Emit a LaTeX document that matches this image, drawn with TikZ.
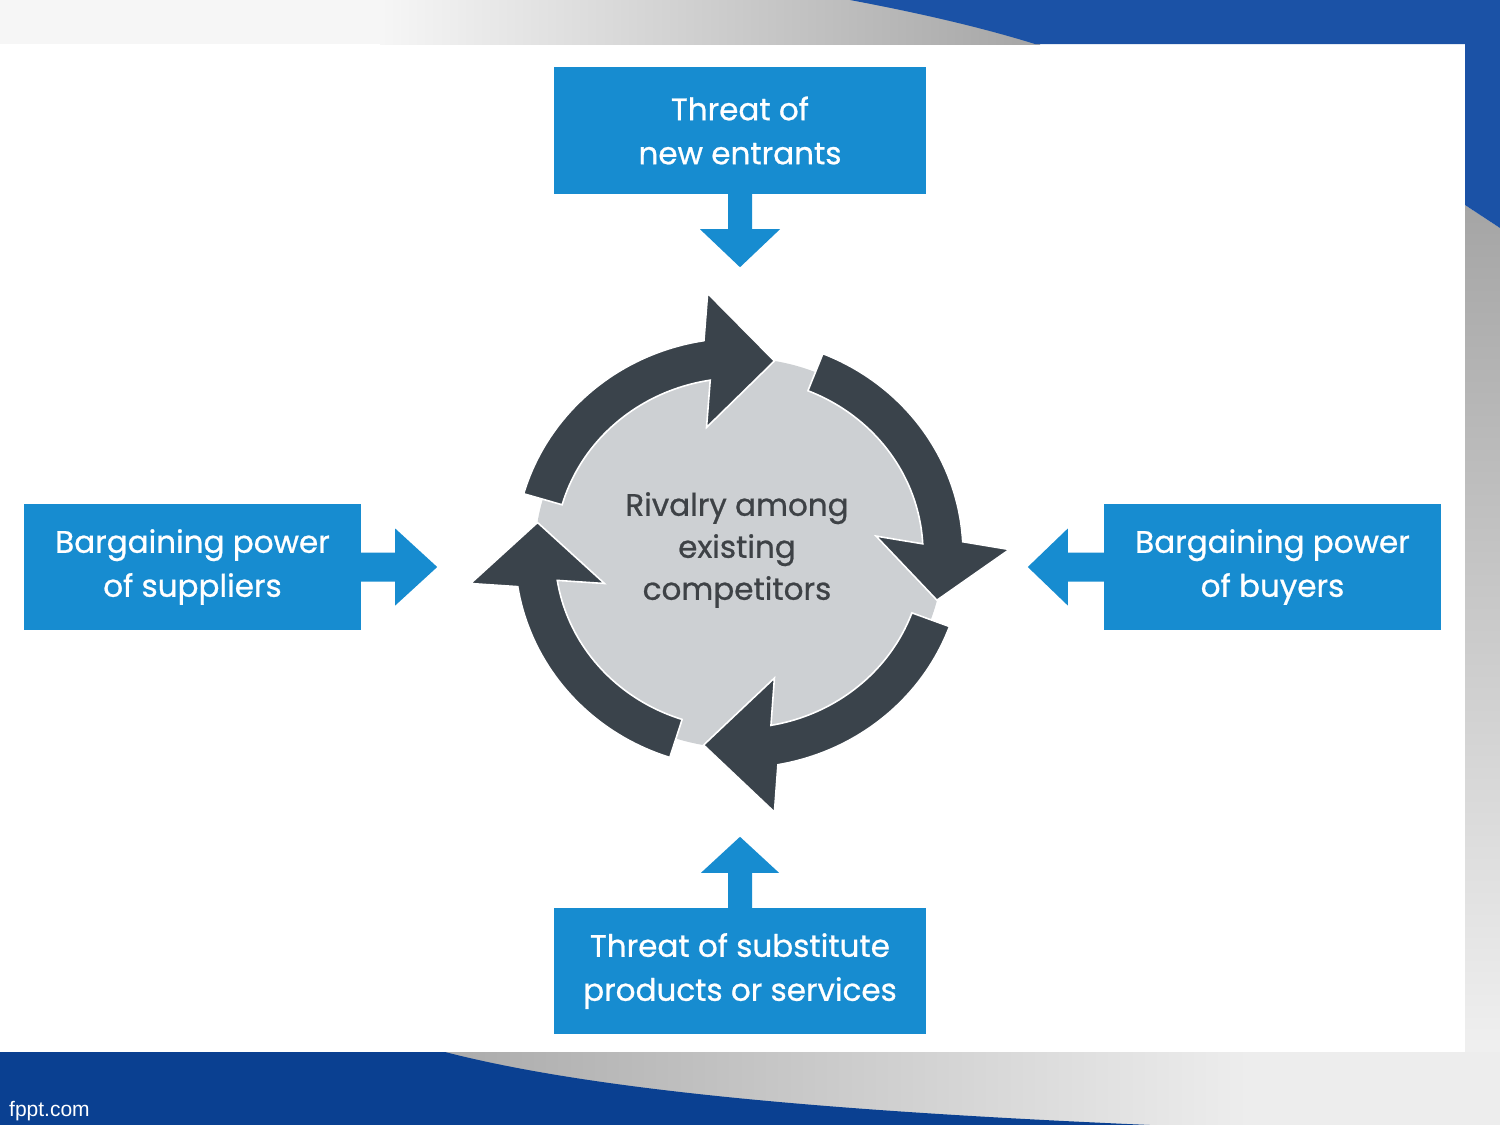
\documentclass[tikz,border=0pt]{standalone}
\usepackage{fontspec}
\setmainfont{Poppins}[FakeBold=0.8]
\newfontfamily\fpptfont{Liberation Sans}
\usetikzlibrary{calc}
\definecolor{boxblue}{RGB}{23,140,208}
\definecolor{ringdark}{RGB}{58,67,75}
\definecolor{diskgrey}{RGB}{205,208,211}
\definecolor{bandblue}{RGB}{27,82,166}
\definecolor{footblue}{RGB}{10,64,145}
\definecolor{textgrey}{RGB}{62,66,70}
\definecolor{paleband}{RGB}{246,246,246}
\definecolor{darkband}{RGB}{165,165,165}
\begin{document}
\begin{tikzpicture}[x=1pt,y=-1pt,
  forcebox/.style={fill=boxblue, text=white, align=center, inner sep=0pt,
    font=\fontsize{31}{44}\selectfont},
  ringarrow/.style={fill=ringdark, draw=white, line width=1.6pt, line join=miter},
  blockarrow/.style={fill=boxblue},
]
\useasboundingbox (0,0) rectangle (1500,1125);
% background
\fill[white] (0,0) rectangle (1500,1125);
\fill[paleband] (0,0) rectangle (1465,44);
\shade[left color=paleband, right color=darkband] (380,0) rectangle (1040,44);
\shade[top color=darkband, bottom color=paleband] (1465,205) -- (1500,228) -- (1500,1125) -- (1465,1125) -- cycle;
\fill[bandblue] (850,0) .. controls (930,15) and (990,30) .. (1035,44) -- (1465,44) -- (1465,205) -- (1500,228) -- (1500,0) -- cycle;
\shade[left color=black!33, right color=black!7] (440,1052) rectangle (1250,1125);
\fill[black!7] (1250,1052) rectangle (1500,1125);
\fill[white] (0,1040) rectangle (1465,1052);
\fill[footblue] (0,1052) -- (445,1052) .. controls (600,1092) and (850,1112) .. (1150,1125) -- (0,1125) -- cycle;
\node[anchor=base west, text=white, inner sep=0pt, font=\fpptfont\fontsize{21}{21}\selectfont] (fppt) at (9,1116) {fppt.com};

% central disk
\fill[diskgrey] (739,553) ellipse [x radius=204, y radius=195];
\foreach \ta/\tb/\tc [count=\i] in {164/99/80, 68/3/-14, -20/-80/-100, -108/-171/-189} {
  \coordinate (mid\i) at ({739+204*cos(\tb)},{553-195*sin(\tb)});
  \coordinate (tip\i) at ({739+204*cos(\tc)},{553-195*sin(\tc)});
  \path[ringarrow] plot[domain=\ta:\tb, samples=40] ({739+224*cos(\x)},{553-215*sin(\x)})
     -- ($(mid\i)!67pt!90:(tip\i)$) -- (tip\i) -- ($(mid\i)!67pt!-90:(tip\i)$)
     -- plot[domain=\tb:\ta, samples=40] ({739+184*cos(\x)},{553-175*sin(\x)}) -- cycle;
}
\node[align=center, text=textgrey, font=\fontsize{31}{42}\selectfont] (rivalry) at (737,550)
  {Rivalry among\\existing\\competitors};

% force boxes
\node[forcebox, minimum width=372, minimum height=127] (entrants) at (740,130.5) {Threat of\\new entrants};
\node[forcebox, minimum width=337, minimum height=126] (suppliers) at (192.5,567) {Bargaining power\\of suppliers};
\node[forcebox, minimum width=337, minimum height=126] (buyers) at (1272.5,567) {Bargaining power\\of buyers};
\node[forcebox, minimum width=372, minimum height=126] (substitutes) at (740,971) {Threat of substitute\\products or services};

% block arrows
\fill[blockarrow] ($(entrants.south)+(-12,-1)$) -- ($(entrants.south)+(-12,35)$) -- ($(entrants.south)+(-40,35)$)
  -- ($(entrants.south)+(0,73)$) -- ($(entrants.south)+(40,35)$) -- ($(entrants.south)+(12,35)$) -- ($(entrants.south)+(12,-1)$) -- cycle;
\fill[blockarrow] ($(substitutes.north)+(-12,1)$) -- ($(substitutes.north)+(-12,-35)$) -- ($(substitutes.north)+(-39,-35)$)
  -- ($(substitutes.north)+(0,-71)$) -- ($(substitutes.north)+(39,-35)$) -- ($(substitutes.north)+(12,-35)$) -- ($(substitutes.north)+(12,1)$) -- cycle;
\fill[blockarrow] ($(suppliers.east)+(-1,-14.5)$) -- ($(suppliers.east)+(34,-14.5)$) -- ($(suppliers.east)+(34,-38.5)$)
  -- ($(suppliers.east)+(76,0)$) -- ($(suppliers.east)+(34,38.5)$) -- ($(suppliers.east)+(34,14.5)$) -- ($(suppliers.east)+(-1,14.5)$) -- cycle;
\fill[blockarrow] ($(buyers.west)+(1,-14.5)$) -- ($(buyers.west)+(-36,-14.5)$) -- ($(buyers.west)+(-36,-38.5)$)
  -- ($(buyers.west)+(-76,0)$) -- ($(buyers.west)+(-36,38.5)$) -- ($(buyers.west)+(-36,14.5)$) -- ($(buyers.west)+(1,14.5)$) -- cycle;
\end{tikzpicture}
\end{document}
